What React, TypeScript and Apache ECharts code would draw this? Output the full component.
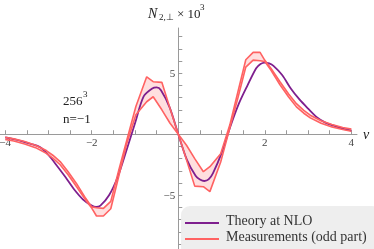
import React, { useEffect, useRef } from "react";
import * as echarts from "echarts";

// Theory at NLO (purple)
const thX = [-4, -3.8, -3.6, -3.4, -3.2, -3.0, -2.8, -2.6, -2.4, -2.2, -2.0, -1.9, -1.8, -1.6, -1.4, -1.2, -1.0, -0.8, -0.6, -0.5, -0.4, -0.2, 0, 0.2, 0.4, 0.5, 0.6, 0.7, 0.8, 1.0, 1.2, 1.4, 1.6, 1.8, 1.9, 2.0, 2.1, 2.2, 2.4, 2.6, 2.8, 3.0, 3.2, 3.4, 3.6, 3.8, 4.0];
const thY = [-0.25, -0.4, -0.58, -0.8, -1.05, -1.7, -2.6, -3.55, -4.55, -5.35, -5.85, -5.96, -5.85, -5.0, -3.5, -1.35, 0.9, 3.1, 3.75, 3.83, 3.6, 2.2, 0, -2.1, -3.4, -3.7, -3.83, -3.7, -3.2, -1.55, 0.6, 2.5, 4.0, 5.4, 5.75, 5.87, 5.8, 5.6, 4.85, 3.75, 2.85, 2.1, 1.4, 0.95, 0.7, 0.45, 0.3];

// Measurements (odd part): band edges
const measX = [-4.0, -3.8, -3.55, -3.3, -3.05, -2.9, -2.73, -2.55, -2.35, -2.14, -2.0, -1.89, -1.73, -1.56, -1.38, -1.19, -0.98, -0.73, -0.58, -0.38, -0.19, 0, 0.19, 0.38, 0.58, 0.73, 0.98, 1.19, 1.38, 1.56, 1.73, 1.89, 2.0, 2.14, 2.35, 2.55, 2.73, 2.9, 3.05, 3.3, 3.55, 3.8, 4.0];
const measUpper = [-0.25, -0.38, -0.6, -0.9, -1.34, -1.72, -2.24, -3.05, -4.05, -5.25, -5.95, -6.02, -6.07, -5.5, -3.0, -0.5, 2.27, 4.7, 4.3, 4.25, 2.1, 0, -0.9, -2.0, -3.07, -2.66, -1.6, 0.75, 3.5, 6.1, 6.7, 6.7, 6.05, 5.4, 4.3, 3.3, 2.5, 1.95, 1.56, 1.1, 0.8, 0.55, 0.42];
const measLower = [-0.42, -0.55, -0.8, -1.1, -1.56, -1.95, -2.5, -3.3, -4.3, -5.4, -6.05, -6.7, -6.7, -6.1, -3.5, -0.75, 1.6, 2.66, 3.07, 2.0, 0.9, 0, -2.1, -4.25, -4.3, -4.7, -2.27, 0.5, 3.0, 5.5, 6.07, 6.02, 5.95, 5.25, 4.05, 3.05, 2.24, 1.72, 1.34, 0.9, 0.6, 0.38, 0.25];

const xTicks = [-4, -3.5, -3, -2.5, -2, -1.5, -1, -0.5, 0.5, 1, 1.5, 2, 2.5, 3, 3.5, 4];
const xLabels = [-4, -2, 2, 4];
const yTicks = [-9, -8, -7, -6, -5, -4, -3, -2, -1, 1, 2, 3, 4, 5, 6, 7, 8];
const yLabels = [-5, 5];

const X_MIN = -4.12;
const X_MAX = 4.13;
const Y_MIN = -9.4;
const Y_MAX = 8.7;

const SERIF = "Liberation Serif";
const PURPLE = "#7e1f8e";
const RED = "#ff6262";

const W = 374;
const H = 249;
const GRID = { left: 0, right: 17, top: 28, bottom: 0 };

const txt = (x: number, y: number, text: string, size: number, italic = false, z = 5, fill = "#222") => ({
  type: "text",
  x,
  y,
  z,
  style: {
    text,
    fontFamily: SERIF,
    fontSize: size,
    fontStyle: italic ? "italic" : "normal",
    fill,
    textVerticalAlign: "middle",
  },
});

export default function App() {
  const ref = useRef<HTMLDivElement>(null);
  useEffect(() => {
    if (!ref.current) return;
    const chart = echarts.init(ref.current, undefined, { renderer: "svg" });
    const fmt = (v: number) => String(v).replace("-", "\u2212");
    const upperPts = measX.map((x, i) => [x, measUpper[i]]);
    const lowerPts = measX.map((x, i) => [x, measLower[i]]);
    // axes cross at the origin: shift each axis inward to the other axis's zero
    const gw = W - GRID.left - GRID.right;
    const gh = H - GRID.top - GRID.bottom;
    const yAxisOffset = -((0 - X_MIN) / (X_MAX - X_MIN)) * gw;
    const xAxisOffset = -((0 - Y_MIN) / (Y_MAX - Y_MIN)) * gh;
    chart.setOption({
      animation: false,
      grid: { ...GRID, containLabel: false, outerBoundsMode: "none" },
      xAxis: {
        type: "value",
        position: "bottom",
        offset: xAxisOffset,
        min: X_MIN,
        max: X_MAX,
        splitLine: { show: false },
        axisLine: { onZero: false, lineStyle: { color: "#9a9a9a", width: 1 } },
        axisTick: { inside: true, length: 4, customValues: xTicks, lineStyle: { color: "#9a9a9a" } },
        axisLabel: {
          customValues: xLabels,
          formatter: fmt,
          margin: 2,
          color: "#444",
          fontFamily: SERIF,
          fontSize: 11,
        },
      },
      yAxis: {
        type: "value",
        position: "left",
        offset: yAxisOffset,
        min: Y_MIN,
        max: Y_MAX,
        splitLine: { show: false },
        axisLine: { onZero: false, lineStyle: { color: "#9a9a9a", width: 1 } },
        axisTick: { inside: true, length: 4, customValues: yTicks, lineStyle: { color: "#9a9a9a" } },
        axisLabel: {
          customValues: yLabels,
          formatter: fmt,
          margin: 3,
          color: "#444",
          fontFamily: SERIF,
          fontSize: 11,
        },
      },
      series: [
        {
          type: "custom",
          silent: true,
          z: 1,
          data: [[0, 0]],
          renderItem: (params: any, api: any) => {
            if (params.dataIndex !== 0) return null;
            const pts = upperPts
              .map((p) => api.coord(p))
              .concat(lowerPts.slice().reverse().map((p) => api.coord(p)));
            return {
              type: "polygon",
              shape: { points: pts },
              style: { fill: "rgba(255, 110, 110, 0.22)", stroke: "none" },
            };
          },
        },
        {
          type: "line",
          name: "Theory at NLO",
          data: thX.map((x, i) => [x, thY[i]]),
          showSymbol: false,
          smooth: 0.3,
          z: 2,
          lineStyle: { color: PURPLE, width: 1.8 },
        },
        {
          type: "line",
          name: "upper",
          data: upperPts,
          showSymbol: false,
          z: 3,
          lineStyle: { color: RED, width: 1.6 },
        },
        {
          type: "line",
          name: "lower",
          data: lowerPts,
          showSymbol: false,
          z: 3,
          lineStyle: { color: RED, width: 1.6 },
        },
      ],
      graphic: [
        txt(148, 13, "N", 14, true),
        txt(159, 17, "2,\u22a5", 9),
        txt(177, 13, "\u00d7 10", 13),
        txt(200, 7, "3", 9),
        txt(363, 134, "\u03bd", 14, true),
        txt(63, 100, "256", 13),
        txt(83, 94, "3", 9),
        txt(63, 118, "n=\u22121", 13),
        { type: "rect", shape: { x: 181, y: 206, width: 200, height: 50, r: 9 }, style: { fill: "rgba(236,236,236,0.9)" }, z: 10 },
        { type: "line", shape: { x1: 185, y1: 223, x2: 219, y2: 223 }, style: { stroke: PURPLE, lineWidth: 2 }, z: 11 },
        { type: "line", shape: { x1: 185, y1: 239, x2: 219, y2: 239 }, style: { stroke: RED, lineWidth: 2 }, z: 11 },
        txt(226, 220, "Theory at NLO", 14, false, 11, "#333"),
        txt(226, 236, "Measurements (odd part)", 14, false, 11, "#333"),
      ],
    });
    return () => chart.dispose();
  }, []);
  return <div ref={ref} style={{ position: "fixed", left: 0, top: 0, width: W, height: H }} />;
}
